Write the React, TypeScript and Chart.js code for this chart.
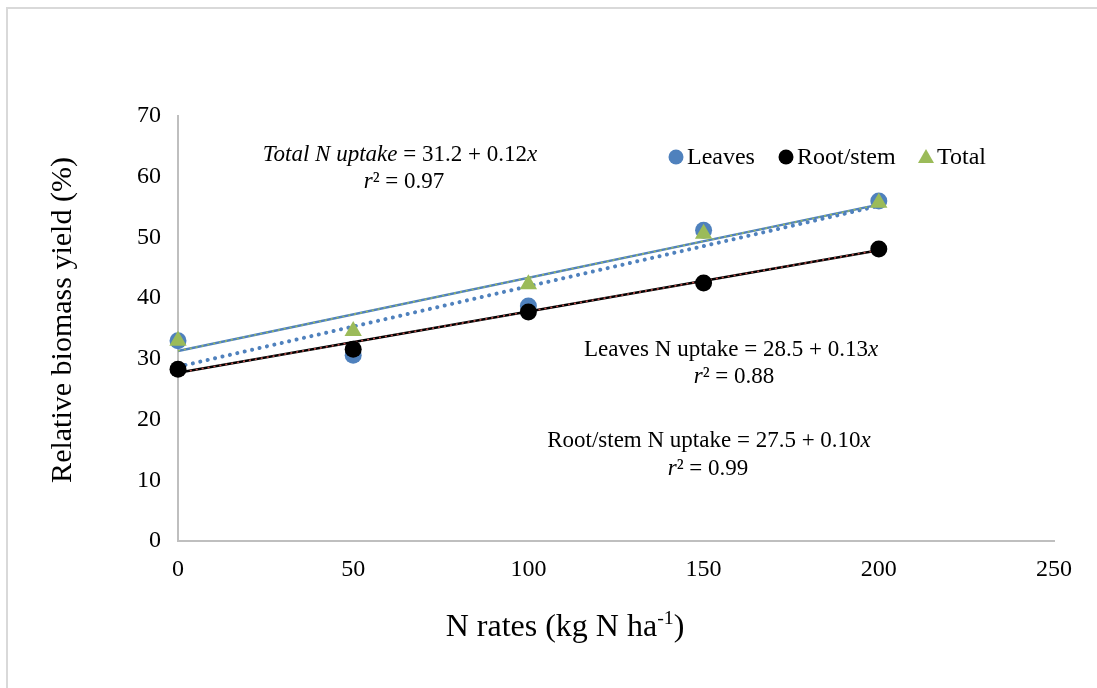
import React, { useEffect, useRef } from "react";
import { Chart, registerables } from "chart.js";

Chart.register(...registerables);

// ---- data ----
const nRates = [0, 50, 100, 150, 200];
const leaves = [33.0, 30.6, 38.7, 51.2, 56.0];
const rootStem = [28.3, 31.6, 37.7, 42.5, 48.1];
const total = [33.0, 34.6, 42.3, 50.6, 55.7];

const trendX = [0, 200];
const leavesTrend = [28.7, 55.2];
const rootTrend = [27.7, 47.9];
const totalTrend = [31.3, 55.4];

const xTicks = [0, 50, 100, 150, 200, 250];
const yTicks = [0, 10, 20, 30, 40, 50, 60, 70];
const legendLabels = ["Leaves", "Root/stem", "Total"];

const BLUE = "#4f81bd";
const GREEN = "#9bbb59";
const RED = "#c0504d";
const FONT = "'Liberation Serif', 'Times New Roman', serif";

const pts = (xs: number[], ys: number[]) => xs.map((x, i) => ({ x, y: ys[i] }));

type Run = { t: string; italic?: boolean; sup?: boolean };

function drawRuns(ctx: CanvasRenderingContext2D, runs: Run[], cx: number, baseline: number, size: number) {
  const fontFor = (r: Run) =>
    `${r.italic ? "italic " : ""}${r.sup ? size * 0.62 : size}px ${FONT}`;
  let w = 0;
  for (const r of runs) {
    ctx.font = fontFor(r);
    w += ctx.measureText(r.t).width;
  }
  let x = cx - w / 2;
  ctx.textAlign = "left";
  ctx.textBaseline = "alphabetic";
  for (const r of runs) {
    ctx.font = fontFor(r);
    ctx.fillText(r.t, x, r.sup ? baseline - size * 0.38 : baseline);
    x += ctx.measureText(r.t).width;
  }
}

const decorPlugin = {
  id: "decor",
  beforeDraw(chart: any) {
    const ctx = chart.ctx as CanvasRenderingContext2D;
    ctx.save();
    ctx.strokeStyle = "#d9d9d9";
    ctx.lineWidth = 2;
    ctx.strokeRect(7, 8, 2000, 2000);
    ctx.restore();
  },
  afterDraw(chart: any) {
    const ctx = chart.ctx as CanvasRenderingContext2D;
    ctx.save();
    ctx.fillStyle = "#000";

    // annotations
    drawRuns(ctx, [{ t: "Total N uptake", italic: true }, { t: " = 31.2 + 0.12" }, { t: "x", italic: true }], 400, 161, 23);
    drawRuns(ctx, [{ t: "r", italic: true }, { t: "² = 0.97" }], 404, 188, 23);
    drawRuns(ctx, [{ t: "Leaves N uptake = 28.5 + 0.13" }, { t: "x", italic: true }], 731, 356, 23);
    drawRuns(ctx, [{ t: "r", italic: true }, { t: "² = 0.88" }], 734, 383, 23);
    drawRuns(ctx, [{ t: "Root/stem N uptake = 27.5 + 0.10" }, { t: "x", italic: true }], 709, 447, 23);
    drawRuns(ctx, [{ t: "r", italic: true }, { t: "² = 0.99" }], 708, 475, 23);

    // axis titles
    drawRuns(ctx, [{ t: "N rates (kg N ha" }, { t: "-1", sup: true }, { t: ")" }], 565, 636, 32);
    ctx.save();
    ctx.translate(63, 320);
    ctx.rotate(-Math.PI / 2);
    ctx.font = `30px ${FONT}`;
    ctx.textAlign = "center";
    ctx.textBaseline = "middle";
    ctx.fillText("Relative biomass yield (%)", 0, 0);
    ctx.restore();

    // legend
    const ly = 157;
    const items = [
      { cx: 676, tx: 687, color: BLUE, shape: "circle" },
      { cx: 786, tx: 797, color: "#000", shape: "circle" },
      { cx: 926, tx: 937, color: GREEN, shape: "triangle" },
    ];
    items.forEach((it, i) => {
      ctx.fillStyle = it.color;
      ctx.beginPath();
      if (it.shape === "circle") {
        ctx.arc(it.cx, ly, 7.5, 0, Math.PI * 2);
      } else {
        ctx.moveTo(it.cx, ly - 8);
        ctx.lineTo(it.cx + 8, ly + 6);
        ctx.lineTo(it.cx - 8, ly + 6);
        ctx.closePath();
      }
      ctx.fill();
      ctx.fillStyle = "#000";
      ctx.font = `24px ${FONT}`;
      ctx.textAlign = "left";
      ctx.textBaseline = "alphabetic";
      ctx.fillText(legendLabels[i], it.tx, 164);
    });
    ctx.restore();
  },
};

export default function App() {
  const ref = useRef<HTMLCanvasElement | null>(null);

  useEffect(() => {
    if (!ref.current) return;
    const chart = new Chart(ref.current, {
      type: "scatter",
      data: {
        datasets: [
          {
            label: "Total",
            data: pts(nRates, total),
            pointStyle: "triangle",
            pointRadius: 10,
            pointHoverRadius: 10,
            backgroundColor: GREEN,
            borderColor: GREEN,
            borderWidth: 0,
            order: 0,
            clip: false,
          } as any,
          {
            label: "Root/stem",
            data: pts(nRates, rootStem),
            pointStyle: "circle",
            pointRadius: 8.5,
            backgroundColor: "#000",
            borderColor: "#000",
            borderWidth: 0,
            order: 1,
            clip: false,
          },
          {
            label: "Leaves",
            data: pts(nRates, leaves),
            pointStyle: "circle",
            pointRadius: 8.5,
            backgroundColor: BLUE,
            borderColor: BLUE,
            borderWidth: 0,
            order: 2,
            clip: false,
          },
          {
            label: "Total trend dash",
            data: pts(trendX, totalTrend),
            showLine: true,
            pointRadius: 0,
            borderColor: GREEN,
            borderWidth: 1.5,
            borderDash: [2, 4],
            order: 3,
            clip: false,
          },
          {
            label: "Total trend",
            data: pts(trendX, totalTrend),
            showLine: true,
            pointRadius: 0,
            borderColor: BLUE,
            borderWidth: 2.5,
            order: 4,
            clip: false,
          },
          {
            label: "Root trend dash",
            data: pts(trendX, rootTrend),
            showLine: true,
            pointRadius: 0,
            borderColor: RED,
            borderWidth: 1.5,
            borderDash: [2, 4],
            order: 5,
            clip: false,
          },
          {
            label: "Root trend",
            data: pts(trendX, rootTrend),
            showLine: true,
            pointRadius: 0,
            borderColor: "#000",
            borderWidth: 2.5,
            order: 6,
            clip: false,
          },
          {
            label: "Leaves trend",
            data: pts(trendX, leavesTrend),
            showLine: true,
            pointRadius: 0,
            borderColor: BLUE,
            borderWidth: 4,
            borderDash: [0.1, 7.5],
            borderCapStyle: "round",
            order: 7,
            clip: false,
          },
        ],
      },
      options: {
        responsive: false,
        animation: false,
        events: [],
        layout: { padding: { left: 118, right: 43, top: 116, bottom: 87 } },
        plugins: {
          legend: { display: false },
          tooltip: { enabled: false },
          title: { display: false },
        },
        scales: {
          x: {
            type: "linear",
            min: 0,
            max: 250,
            afterFit: (s: any) => {
              s.height = 60;
            },
            afterBuildTicks: (s: any) => {
              s.ticks = xTicks.map((v) => ({ value: v }));
            },
            grid: { display: true, color: "rgba(0,0,0,0)", drawTicks: false },
            border: { display: true, color: "#bfbfbf", width: 2 },
            ticks: {
              padding: 14,
              color: "#000",
              font: { family: FONT, size: 24 },
              maxRotation: 0,
              autoSkip: false,
            },
          },
          y: {
            type: "linear",
            min: 0,
            max: 70,
            afterFit: (s: any) => {
              s.width = 60;
            },
            afterBuildTicks: (s: any) => {
              s.ticks = yTicks.map((v) => ({ value: v }));
            },
            grid: { display: true, color: "rgba(0,0,0,0)", drawTicks: false },
            border: { display: true, color: "#bfbfbf", width: 2 },
            ticks: {
              padding: 17,
              color: "#000",
              font: { family: FONT, size: 24 },
              autoSkip: false,
            },
          },
        },
      } as any,
      plugins: [decorPlugin],
    });
    return () => chart.destroy();
  }, []);

  return (
    <div style={{ position: "absolute", left: 0, top: 0, width: 1097, height: 688 }}>
      <canvas ref={ref} width={1097} height={688} style={{ display: "block", width: 1097, height: 688 }} />
    </div>
  );
}
